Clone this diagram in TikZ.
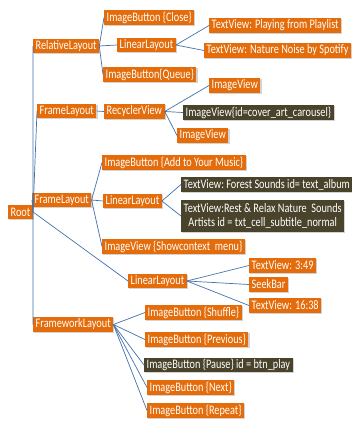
\documentclass[tikz,border=0pt]{standalone}
\usepackage{fontspec}
\usetikzlibrary{shadows}
\newfontfamily\boxfont[FakeStretch=0.79]{Carlito}
\definecolor{boxorange}{HTML}{E46C0A}
\definecolor{boxdark}{HTML}{48432A}
\definecolor{linkblue}{HTML}{4170AC}
\tikzset{
	tbox/.style={anchor=west,fill=boxorange,text=white,font=\boxfont\fontsize{13}{14}\selectfont,
		minimum height=14.5,inner xsep=2.5,inner ysep=0.5,
		drop shadow={shadow xshift=1.2pt,shadow yshift=-1.2pt,opacity=0.35}},
	dbox/.style={tbox,fill=boxdark},
	link/.style={linkblue,line width=0.7}
}
\begin{document}
\begin{tikzpicture}[x=1pt,y=-1pt]
	\useasboundingbox (0,0) rectangle (352,421);
	
	% NODES
	\node[tbox] (root) at (8,212) {Root};
	\node[tbox] (rel) at (33,46) {RelativeLayout};
	\node[tbox] (close) at (104,17.5) {ImageButton \{Close\}};
	\node[tbox] (linA) at (117,45) {LinearLayout};
	\node[tbox] (queue) at (103,74.5) {ImageButton\{Queue\}};
	\node[tbox] (play) at (209,25.5) {TextView: Playing from Playlist};
	\node[tbox] (nature) at (204,50.5) {TextView: Nature Noise by Spotify};
	\node[tbox] (frameA) at (37,111) {FrameLayout};
	\node[tbox] (recyc) at (104,111.5) {RecyclerView};
	\node[tbox] (ivA) at (209,85.5) {ImageView};
	\node[dbox] (cover) at (183,112.5) {ImageView\{id=cover\_art\_carousel\}};
	\node[tbox] (ivB) at (177,135.5) {ImageView};
	\node[tbox] (frameB) at (32,200) {FrameLayout};
	\node[tbox] (addmusic) at (102,162.5) {ImageButton \{Add to Your Music\}};
	\node[tbox] (linB) at (103,201) {LinearLayout};
	\node[tbox] (showmenu) at (102,246.5) {ImageView \{Showcontext\ \ menu\}};
	\node[dbox] (forest) at (181,184.5) {TextView:\ Forest Sounds id= text\_album};
	\node[dbox,align=center,minimum height=32] (rest) at (181,216)
	{TextView:Rest \& Relax Nature\ \ Sounds\\Artists id = txt\_cell\_subtitle\_normal};
	\node[tbox] (linC) at (128,281) {LinearLayout};
	\node[tbox] (timeA) at (249,265.5) {TextView: 3:49};
	\node[tbox] (seek) at (249,284.5) {SeekBar};
	\node[tbox] (timeB) at (249,305.5) {TextView: 16:38};
	\node[tbox] (fw) at (33,324.5) {FrameworkLayout};
	\node[tbox] (shuffle) at (145,312.5) {ImageButton \{Shuffle\}};
	\node[tbox] (prev) at (145,339.5) {ImageButton \{Previous\}};
	\node[dbox] (pause) at (144,365) {ImageButton \{Pause\} id = btn\_play};
	\node[tbox] (next) at (147,387.5) {ImageButton \{Next\}};
	\node[tbox] (repeat) at (147,410.5) {ImageButton \{Repeat\}};
	
	% LINKS
	\foreach \c in {rel,frameA,frameB,linC,fw}
	\draw[link] (root.east) -- (\c.west);
	\foreach \c in {close,linA,queue}
	\draw[link] (rel.east) -- (\c.west);
	\foreach \c in {play,nature}
	\draw[link] (linA.east) -- (\c.west);
	\draw[link] (frameA.east) -- (recyc.west);
	\foreach \c in {ivA,cover,ivB}
	\draw[link] (recyc.east) -- (\c.west);
	\foreach \c in {addmusic,linB,showmenu}
	\draw[link] (frameB.east) -- (\c.west);
	\foreach \c in {forest,rest}
	\draw[link] (linB.east) -- (\c.west);
	\foreach \c in {timeA,seek,timeB}
	\draw[link] (linC.east) -- (\c.west);
	\foreach \c in {shuffle,prev,pause,next,repeat}
	\draw[link] (fw.east) -- (\c.west);
	
\end{tikzpicture}
\end{document}
